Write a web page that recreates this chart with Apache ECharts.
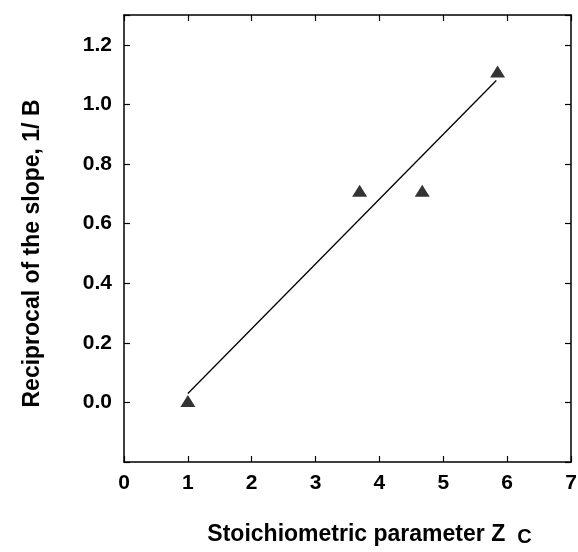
<!DOCTYPE html>
<html>
<head>
<meta charset="utf-8">
<script src="https://cdn.jsdelivr.net/npm/echarts@6/dist/echarts.min.js"></script>
<style>
  html, body { margin: 0; padding: 0; background: #fff; }
  #chart { width: 578px; height: 552px; }
</style>
</head>
<body>
<div id="chart"></div>
<script>
// measured points (Zc, 1/B)
const zc = [1.0, 3.69, 4.67, 5.85];
const invB = [0.005, 0.71, 0.71, 1.11];
// fitted line ends
const fitX = [1.0, 5.83];
const fitY = [0.03, 1.08];

const font = "Liberation Sans, Arial, Helvetica, sans-serif";

const chart = echarts.init(document.getElementById("chart"));

const tickStyle = { show: true, inside: true, length: 6, lineStyle: { color: "#000", width: 1.2 } };
const lineStyle = { show: true, onZero: false, lineStyle: { color: "#000", width: 1.5 } };

const options = {
  animation: false,
  backgroundColor: "#fff",
  grid: { left: 124, right: 7, top: 15, bottom: 90, outerBoundsMode: "none" },
  xAxis: [
    {
      type: "value",
      min: 0,
      max: 7,
      interval: 1,
      axisLine: lineStyle,
      axisTick: tickStyle,
      splitLine: { show: false },
      axisLabel: {
        margin: 11,
        color: "#000",
        fontFamily: font,
        fontWeight: "bold",
        fontSize: 21,
      },
      name: "Stoichiometric parameter Z{s|C}",
      nameLocation: "middle",
      nameGap: 61,
      nameTextStyle: {
        color: "#000",
        fontFamily: font,
        fontWeight: "bold",
        fontSize: 23,
        padding: [0, 0, 0, 44],
        rich: {
          s: { fontFamily: font, fontWeight: "bold", fontSize: 20, color: "#000", padding: [4, 0, 0, 12] },
        },
      },
    },
    {
      type: "value",
      position: "top",
      min: 0,
      max: 7,
      interval: 1,
      axisLine: lineStyle,
      axisTick: tickStyle,
      axisLabel: { show: false },
      splitLine: { show: false },
    },
  ],
  yAxis: [
    {
      type: "value",
      min: -0.2,
      max: 1.3,
      interval: 0.2,
      axisLine: lineStyle,
      axisTick: tickStyle,
      splitLine: { show: false },
      axisLabel: {
        margin: 12,
        color: "#000",
        fontFamily: font,
        fontWeight: "bold",
        fontSize: 21,
        formatter: function (v) {
          if (v < -0.01 || v > 1.25) return "";
          return v.toFixed(1);
        },
      },
      name: "Reciprocal of the slope, 1/ B",
      nameLocation: "middle",
      nameGap: 80,
      nameRotate: 90,
      nameTextStyle: {
        color: "#000",
        fontFamily: font,
        fontWeight: "bold",
        fontSize: 23,
        padding: [0, 30, 0, 0],
      },
    },
    {
      type: "value",
      position: "right",
      min: -0.2,
      max: 1.3,
      interval: 0.2,
      axisLine: lineStyle,
      axisTick: tickStyle,
      axisLabel: { show: false },
      splitLine: { show: false },
    },
  ],
  series: [
    {
      type: "line",
      data: fitX.map((x, i) => [x, fitY[i]]),
      symbol: "none",
      lineStyle: { color: "#000", width: 1.3 },
      z: 2,
    },
    {
      type: "scatter",
      data: zc.map((x, i) => [x, invB[i]]),
      symbol: "triangle",
      symbolSize: [15, 12],
      itemStyle: { color: "#000" },
      z: 3,
    },
  ],
};

chart.setOption(options);
</script>
</body>
</html>
